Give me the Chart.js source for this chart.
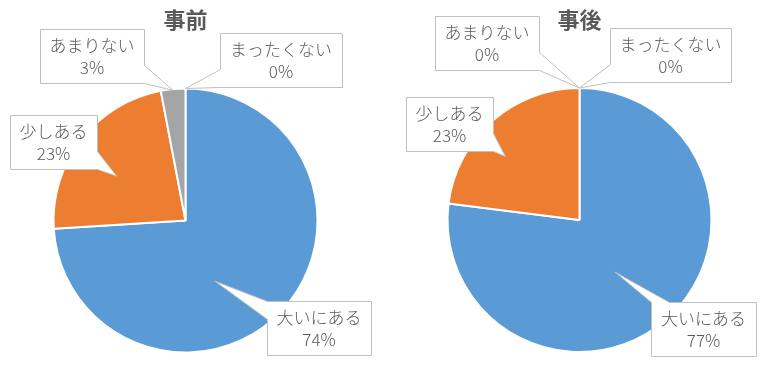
<!DOCTYPE html>
<html>
<head>
<meta charset="utf-8">
<script src="https://cdn.jsdelivr.net/npm/chart.js@4/dist/chart.umd.min.js"></script>
<style>
  html, body { margin: 0; padding: 0; background: #ffffff; }
  #wrap { display: flex; width: 766px; height: 369px; }
  canvas { display: block; }
</style>
</head>
<body>
<div id="wrap">
  <canvas id="before" width="383" height="369"></canvas>
  <canvas id="after" width="383" height="369"></canvas>
</div>
<script>
// ---- data ----
const categories = ['大いにある', '少しある', 'あまりない', 'まったくない'];
const beforeValues = [74, 23, 3, 0];
const afterValues = [77, 23, 0, 0];
const chartTitles = ['事前', '事後'];
const sliceColors = ['#5B9BD5', '#ED7D31', '#A5A5A5', '#FFC000'];

// ---- callout layout (box centre offset from pie centre in px; tip = [angle shift deg, radius fraction]) ----
const beforeCallouts = {
  box: [[133.5, 107.5], [-132, -78.5], [-93.5, -164.5], [95.5, -160.5]],
  tip: [[21, 0.51], [-5, 0.62], [0, 0.99], [0, 1.0]]
};
const afterCallouts = {
  box: [[124, 108.5], [-130, -96], [-92.5, -177], [91, -165]],
  tip: [[7, 0.48], [-8, 0.74], [0, 1.0], [0, 1.0]]
};

const TEXT_COLOR = '#595959';
const LABEL_FONT = '300 17px "Noto Sans CJK JP", "Noto Sans", sans-serif';

function calloutPath(ctx, l, t, r, b, tip) {
  const L = 18;
  const dxOut = Math.max(l - tip.x, 0, tip.x - r);
  const dyOut = Math.max(t - tip.y, 0, tip.y - b);
  let edge, p1, p2;
  if (dxOut >= dyOut * 1.2) {
    let c = Math.min(Math.max(tip.y, t + L / 2), b - L / 2);
    if (tip.x < l) { edge = 'left'; p1 = {x: l, y: c + L / 2}; p2 = {x: l, y: c - L / 2}; }
    else { edge = 'right'; p1 = {x: r, y: c - L / 2}; p2 = {x: r, y: c + L / 2}; }
  } else {
    let c = Math.min(Math.max(tip.x, l + L / 2), r - L / 2);
    if (tip.y < t) { edge = 'top'; p1 = {x: c - L / 2, y: t}; p2 = {x: c + L / 2, y: t}; }
    else { edge = 'bottom'; p1 = {x: c + L / 2, y: b}; p2 = {x: c - L / 2, y: b}; }
  }
  ctx.beginPath();
  ctx.moveTo(l, t);
  if (edge === 'top') { ctx.lineTo(p1.x, p1.y); ctx.lineTo(tip.x, tip.y); ctx.lineTo(p2.x, p2.y); }
  ctx.lineTo(r, t);
  if (edge === 'right') { ctx.lineTo(p1.x, p1.y); ctx.lineTo(tip.x, tip.y); ctx.lineTo(p2.x, p2.y); }
  ctx.lineTo(r, b);
  if (edge === 'bottom') { ctx.lineTo(p1.x, p1.y); ctx.lineTo(tip.x, tip.y); ctx.lineTo(p2.x, p2.y); }
  ctx.lineTo(l, b);
  if (edge === 'left') { ctx.lineTo(p1.x, p1.y); ctx.lineTo(tip.x, tip.y); ctx.lineTo(p2.x, p2.y); }
  ctx.closePath();
}

const calloutPlugin = {
  id: 'callouts',
  afterDatasetsDraw(chart, args, opts) {
    const ctx = chart.ctx;
    const meta = chart.getDatasetMeta(0);
    const values = chart.data.datasets[0].data;
    const labels = chart.data.labels;
    const layout = opts.layout;
    ctx.save();
    ctx.font = LABEL_FONT;
    meta.data.forEach((arc, i) => {
      const cx = arc.x, cy = arc.y, R = arc.outerRadius;
      const mid = (arc.startAngle + arc.endAngle) / 2 + layout.tip[i][0] * Math.PI / 180;
      const tip = {x: cx + Math.cos(mid) * R * layout.tip[i][1], y: cy + Math.sin(mid) * R * layout.tip[i][1]};
      const line1 = labels[i];
      const line2 = values[i] + '%';
      const w = Math.max(ctx.measureText(line1).width, ctx.measureText(line2).width) + 20;
      const h = 54;
      const bx = cx + layout.box[i][0], by = cy + layout.box[i][1];
      const l = Math.round(bx - w / 2) + 0.5, t = Math.round(by - h / 2) + 0.5;
      const r = Math.round(bx + w / 2) + 0.5, b = Math.round(by + h / 2) + 0.5;
      calloutPath(ctx, l, t, r, b, tip);
      ctx.fillStyle = '#ffffff';
      ctx.fill();
      ctx.lineWidth = 1;
      ctx.strokeStyle = '#BFBFBF';
      ctx.stroke();
      ctx.fillStyle = TEXT_COLOR;
      ctx.textAlign = 'center';
      ctx.textBaseline = 'middle';
      ctx.fillText(line1, bx, by - 10);
      ctx.fillText(line2, bx, by + 12);
    });
    ctx.restore();
  }
};

function makePie(id, title, values, layoutPad, titleBottom, callouts) {
  return new Chart(document.getElementById(id), {
    type: 'pie',
    data: {
      labels: categories,
      datasets: [{
        data: values,
        backgroundColor: sliceColors,
        borderColor: '#ffffff',
        borderWidth: 2
      }]
    },
    options: {
      responsive: false,
      animation: false,
      rotation: 0,
      layout: { padding: layoutPad },
      plugins: {
        legend: { display: false },
        tooltip: { enabled: false },
        title: {
          display: true,
          text: title,
          color: TEXT_COLOR,
          font: { family: '"Noto Sans CJK JP", sans-serif', size: 22, weight: 'bold', lineHeight: 1.2 },
          padding: { top: 6, bottom: titleBottom }
        },
        callouts: { layout: callouts }
      }
    },
    plugins: [calloutPlugin]
  });
}

makePie('before', chartTitles[0], beforeValues, { left: 52.5, right: 64.5, top: 0, bottom: 15.5 }, 55.1, beforeCallouts);
makePie('after', chartTitles[1], afterValues, { left: 63.5, right: 53.5, top: 0, bottom: 16 }, 54.6, afterCallouts);
</script>
</body>
</html>
